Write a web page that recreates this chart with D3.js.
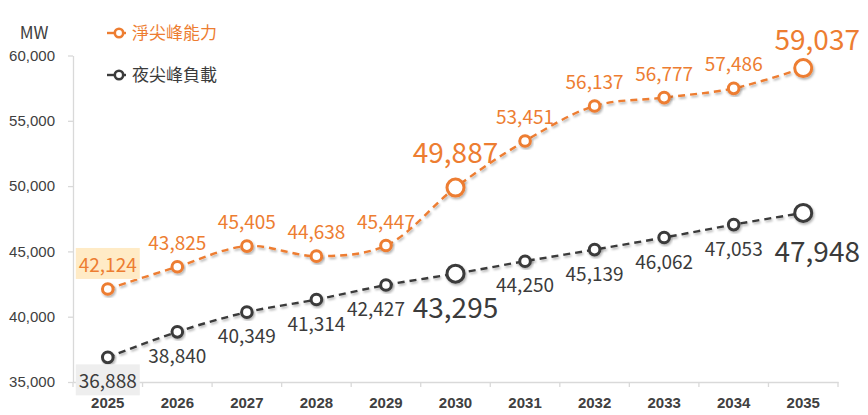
<!DOCTYPE html>
<html>
<head>
<meta charset="utf-8">
<script src="https://cdn.jsdelivr.net/npm/d3@7"></script>
<style>
  body { margin: 0; background: #fff; }
  svg { font-family: "Noto Sans CJK TC", "Noto Sans", sans-serif; }
</style>
</head>
<body>
<div id="chart"></div>
<script>
/* global d3 */

// data
var years = [ "2025", "2026", "2027", "2028", "2029", "2030", "2031", "2032", "2033", "2034", "2035" ];
var netPeakCapacity = [ 42124, 43825, 45405, 44638, 45447, 49887, 53451, 56137, 56777, 57486, 59037 ];
var nightPeakLoad = [ 36888, 38840, 40349, 41314, 42427, 43295, 44250, 45139, 46062, 47053, 47948 ];
var yTicks = [ 35000, 40000, 45000, 50000, 55000, 60000 ];
var seriesNames = [ "淨尖峰能力", "夜尖峰負載" ];
var bigPoints = [ "2030", "2035" ];   // emphasised years
var boxedYear = "2025";               // year with shaded label

var width = 868,
  height = 415,
  margin = { top: 55.5, right: 30, bottom: 33, left: 73 };

var ORANGE = "#ED7D31",
  DARK = "#3B3B3B",
  AXIS = "#D9D9D9",
  fmt = d3.format( "," );

var svg = d3.select( "#chart" ).append( "svg" )
  .attr( "width", width )
  .attr( "height", height );

var defs = svg.append( "defs" );
defs.append( "filter" )
  .attr( "id", "shadow" )
  .attr( "x", "-30%" ).attr( "y", "-30%" )
  .attr( "width", "160%" ).attr( "height", "160%" )
  .append( "feDropShadow" )
    .attr( "dx", 1.2 ).attr( "dy", 1.8 )
    .attr( "stdDeviation", 1.1 )
    .attr( "flood-color", "#000" )
    .attr( "flood-opacity", 0.3 );

var x = d3.scaleBand()
  .domain( years )
  .range( [ margin.left, width - margin.right ] )
  .padding( 0 );

var y = d3.scaleLinear()
  .domain( [ 35000, 60000 ] )
  .range( [ height - margin.bottom, margin.top ] );

var cx = function( yr ) { return x( yr ) + x.bandwidth() / 2; };

// y axis
var yAxis = svg.append( "g" )
  .attr( "transform", "translate(" + margin.left + ",0)" )
  .call( d3.axisLeft( y ).tickValues( yTicks ).tickFormat( fmt )
    .tickSize( 5 ).tickSizeOuter( 0 ).tickPadding( 13 ) );
yAxis.select( ".domain" ).attr( "stroke", AXIS ).attr( "stroke-width", 1.3 );
yAxis.selectAll( ".tick line" ).attr( "stroke", AXIS ).attr( "stroke-width", 1.3 );
yAxis.selectAll( ".tick text" )
  .style( "font-size", "15px" )
  .attr( "fill", "#404040" );

// x axis (labels centred in bands, ticks on band edges)
var xAxis = svg.append( "g" )
  .attr( "transform", "translate(0," + y.range()[ 0 ] + ")" )
  .call( d3.axisBottom( x ).tickSize( 0 ).tickPadding( 15 ) );
xAxis.select( ".domain" ).attr( "stroke", AXIS ).attr( "stroke-width", 1.3 );
xAxis.selectAll( ".tick text" )
  .style( "font-size", "15px" )
  .style( "font-weight", "bold" )
  .attr( "fill", "#404040" );

xAxis.selectAll( ".edge" )
  .data( d3.range( years.length + 1 ) )
  .enter()
  .append( "line" )
    .attr( "class", "edge" )
    .attr( "x1", i => x.range()[ 0 ] + i * x.step() )
    .attr( "x2", i => x.range()[ 0 ] + i * x.step() )
    .attr( "y1", 0 )
    .attr( "y2", 5 )
    .attr( "stroke", AXIS )
    .attr( "stroke-width", 1.3 );

// unit label
svg.append( "text" )
  .attr( "x", 34 )
  .attr( "y", 33 )
  .attr( "dy", "0.35em" )
  .attr( "text-anchor", "middle" )
  .style( "font-size", "17px" )
  .attr( "fill", "#404040" )
  .text( "MW" );

var series = [
  { name: seriesNames[ 0 ], values: netPeakCapacity, color: ORANGE, above: true },
  { name: seriesNames[ 1 ], values: nightPeakLoad, color: DARK, above: false }
];

var line = d3.line()
  .x( d => cx( d.year ) )
  .y( d => y( d.value ) )
  .curve( d3.curveCatmullRom.alpha( 0.5 ) );

series.forEach( function( s ) {
  var pts = years.map( ( yr, i ) => ( { year: yr, value: s.values[ i ] } ) );
  var g = svg.append( "g" );

  g.append( "path" )
    .datum( pts )
    .attr( "d", line )
    .attr( "fill", "none" )
    .attr( "stroke", s.color )
    .attr( "stroke-width", 2.4 )
    .attr( "stroke-dasharray", "7,5" )
    .attr( "filter", "url(#shadow)" );

  g.selectAll( "circle" )
    .data( pts )
    .enter()
    .append( "circle" )
      .attr( "cx", d => cx( d.year ) )
      .attr( "cy", d => y( d.value ) )
      .attr( "r", d => bigPoints.indexOf( d.year ) >= 0 ? 8.5 : 5.3 )
      .attr( "fill", "#fff" )
      .attr( "stroke", s.color )
      .attr( "stroke-width", 3 )
      .attr( "filter", "url(#shadow)" );

  // value labels
  pts.forEach( function( d, i ) {
    var big = bigPoints.indexOf( d.year ) >= 0,
      last = i === pts.length - 1,
      px = cx( d.year ) + ( big && last ? 14 : 0 ),
      py;

    // the small load label just before the 2030 callout sits a bit to the left
    if ( !s.above && years[ i + 1 ] === bigPoints[ 0 ] ) px -= 10;

    if ( s.above ) py = y( d.value ) - ( big ? ( last ? 18 : 25 ) : 17 );
    else py = y( d.value ) + ( big ? ( last ? 49 : 44 ) : 31 );

    var t = g.append( "text" )
      .attr( "x", px )
      .attr( "y", py )
      .attr( "text-anchor", "middle" )
      .style( "font-size", big ? "28px" : "19px" )
      .attr( "fill", s.color )
      .text( fmt( d.value ) );

    if ( d.year === boxedYear ) {
      var bb = t.node().getBBox();
      g.insert( "rect", "text" )
        .attr( "x", bb.x - 3 )
        .attr( "y", bb.y - 2 )
        .attr( "width", bb.width + 6 )
        .attr( "height", bb.height + 4 )
        .attr( "fill", s.above ? "#FFEBC6" : "#EEEEEE" );
    }
  } );
} );

// legend
var legend = svg.append( "g" );
series.forEach( function( s, i ) {
  var ly = 33 + i * 42;
  legend.append( "line" )
    .attr( "x1", 107 ).attr( "x2", 126 )
    .attr( "y1", ly ).attr( "y2", ly )
    .attr( "stroke", s.color )
    .attr( "stroke-width", 2.4 );
  legend.append( "circle" )
    .attr( "cx", 119 ).attr( "cy", ly )
    .attr( "r", 4.2 )
    .attr( "fill", "#fff" )
    .attr( "stroke", s.color )
    .attr( "stroke-width", 2.6 );
  legend.append( "text" )
    .attr( "x", 132 )
    .attr( "y", ly )
    .attr( "dy", "0.36em" )
    .style( "font-size", "17px" )
    .attr( "fill", s.color )
    .text( s.name );
} );
</script>
</body>
</html>
